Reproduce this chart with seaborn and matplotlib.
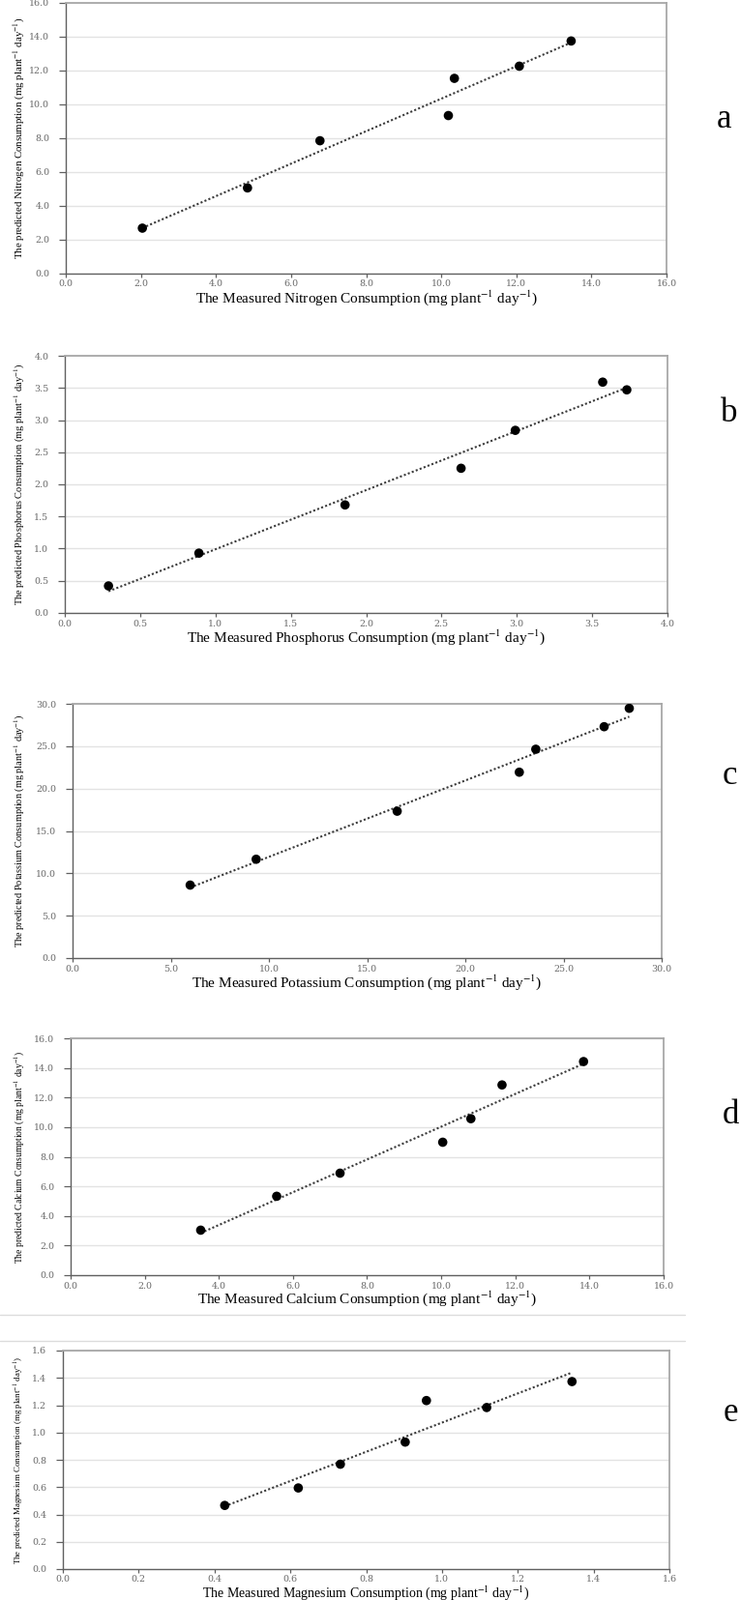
import numpy as np
import matplotlib
matplotlib.use("Agg")
import matplotlib.pyplot as plt
from matplotlib.ticker import FormatStrFormatter, MultipleLocator
from matplotlib.lines import Line2D
import seaborn as sns

# ---------------- data ----------------
n_measured = [2.04, 4.84, 6.77, 10.19, 10.35, 12.08, 13.46]
n_predicted = [2.66, 5.04, 7.83, 9.32, 11.52, 12.24, 13.73]

p_measured = [0.29, 0.89, 1.86, 2.63, 2.99, 3.57, 3.73]
p_predicted = [0.42, 0.93, 1.68, 2.25, 2.84, 3.59, 3.47]

k_measured = [5.99, 9.35, 16.53, 22.75, 23.59, 27.07, 28.35]
k_predicted = [8.61, 11.66, 17.33, 21.93, 24.64, 27.30, 29.47]

ca_measured = [3.51, 5.56, 7.27, 10.04, 10.80, 11.64, 13.84]
ca_predicted = [3.04, 5.33, 6.89, 8.98, 10.57, 12.85, 14.43]

mg_measured = [0.427, 0.621, 0.732, 0.903, 0.959, 1.118, 1.343]
mg_predicted = [0.466, 0.594, 0.768, 0.930, 1.234, 1.183, 1.373]

elements = ["Nitrogen", "Phosphorus", "Potassium", "Calcium", "Magnesium"]
panel_letters = ["a", "b", "c", "d", "e"]
axis_max = [16.0, 4.0, 30.0, 16.0, 1.6]
axis_step = [2.0, 0.5, 5.0, 2.0, 0.2]
measured = [n_measured, p_measured, k_measured, ca_measured, mg_measured]
predicted = [n_predicted, p_predicted, k_predicted, ca_predicted, mg_predicted]

# ---------------- layout (pixels) ----------------
W, H = 766, 1655
# left, right, top, bottom of each plot area
boxes = [(68, 689, 2.7, 282.5),
         (67, 690, 368, 634),
         (75, 684, 728, 991),
         (73, 686, 1074, 1319),
         (65, 692, 1397, 1623)]
xlabel_base = [313, 663.5, 1020.5, 1347.5, 1651.5]
xlabel_len = [387, 397, 388, 378, 403]
xlabel_max = [11.0, 11.0, 11.0, 11.0, 10.0]
xtick_pad = [2, 2, 2, 2, 1.5]
ylabel_len = [250, 248, 241, 218, 213]
ylabel_x = 20
letter_pos = [(748, 123), (754, 427), (754, 803), (755, 1153), (755, 1462)]

sns.set_theme(style="white")
plt.rcParams["font.family"] = ["Liberation Serif", "DejaVu Serif"]
plt.rcParams["mathtext.fontset"] = "stix"

fig = plt.figure(figsize=(W / 100, H / 100), dpi=100)
fig.patch.set_facecolor("white")

theta = np.linspace(0, 2 * np.pi, 60)
ellipse = np.column_stack([np.cos(theta), 0.74 * np.sin(theta)])

unit = r" (mg plant$^{-1}$ day$^{-1}$)"
axes = []
for i in range(5):
    l, r, t, b = boxes[i]
    ax = fig.add_axes([l / W, 1 - b / H, (r - l) / W, (b - t) / H])
    axes.append(ax)
    sns.regplot(x=measured[i], y=predicted[i], ax=ax, ci=None, truncate=True,
                scatter_kws=dict(s=48, color="black", marker=ellipse,
                                 edgecolors="none", zorder=3, alpha=1),
                line_kws=dict(color="#3a3a3a", lw=1.5, ls=(0, (1, 1.1)), zorder=2))
    m = axis_max[i]
    ax.set_xlim(0, m)
    ax.set_ylim(0, m)
    ax.xaxis.set_major_locator(MultipleLocator(axis_step[i]))
    ax.yaxis.set_major_locator(MultipleLocator(axis_step[i]))
    ax.xaxis.set_major_formatter(FormatStrFormatter("%.1f"))
    ax.yaxis.set_major_formatter(FormatStrFormatter("%.1f"))
    ax.grid(axis="y", color="#e3e3e3", lw=1.0)
    ax.grid(axis="x", visible=False)
    ax.set_axisbelow(True)
    for side in ["top", "right"]:
        ax.spines[side].set_color("#a8a8a8")
        ax.spines[side].set_linewidth(1.3)
    for side in ["left", "bottom"]:
        ax.spines[side].set_color("#606060")
        ax.spines[side].set_linewidth(1.0)
    ax.tick_params(axis="both", which="major", direction="out", width=0.9,
                   color="#606060", labelcolor="#6a6a6a", labelsize=6.8)
    ax.tick_params(axis="x", pad=xtick_pad[i], length=3, bottom=True)
    ax.tick_params(axis="y", pad=7, length=5, left=True)
    for lab in ax.get_xticklabels() + ax.get_yticklabels():
        lab.set_family(["DejaVu Serif"])

    ax.set_xlabel("The Measured " + elements[i] + " Consumption" + unit,
                  fontsize=11, color="black")
    ax.set_ylabel("The predicted " + elements[i] + " Consumption" + unit,
                  fontsize=8.5, color="black")
    hp = b - t
    wp = r - l
    ax.xaxis.set_label_coords(0.5, -(xlabel_base[i] - b) / hp)
    ax.xaxis.label.set_va("baseline")
    ax.yaxis.set_label_coords((ylabel_x - l) / wp, 0.5)
    ax.yaxis.label.set_va("center")

    lx, ly = letter_pos[i]
    fig.text(lx / W, 1 - ly / H, panel_letters[i], fontsize=25, ha="center",
             va="center", color="black")

# fit label lengths to the reference
renderer = fig.canvas.get_renderer()
for i, ax in enumerate(axes):
    xl = ax.xaxis.label
    bb = xl.get_window_extent(renderer)
    xl.set_fontsize(min(xlabel_max[i], xl.get_fontsize() * xlabel_len[i] / bb.width))
    yl = ax.yaxis.label
    bb = yl.get_window_extent(renderer)
    yl.set_fontsize(yl.get_fontsize() * ylabel_len[i] / bb.height)

# separator lines above panel e
for yy in [1360, 1387]:
    fig.add_artist(Line2D([0, 708 / W], [1 - yy / H, 1 - yy / H],
                          transform=fig.transFigure, color="#dcdcdc", lw=1.0))

fig.savefig("out.png", dpi=100, facecolor="white")
